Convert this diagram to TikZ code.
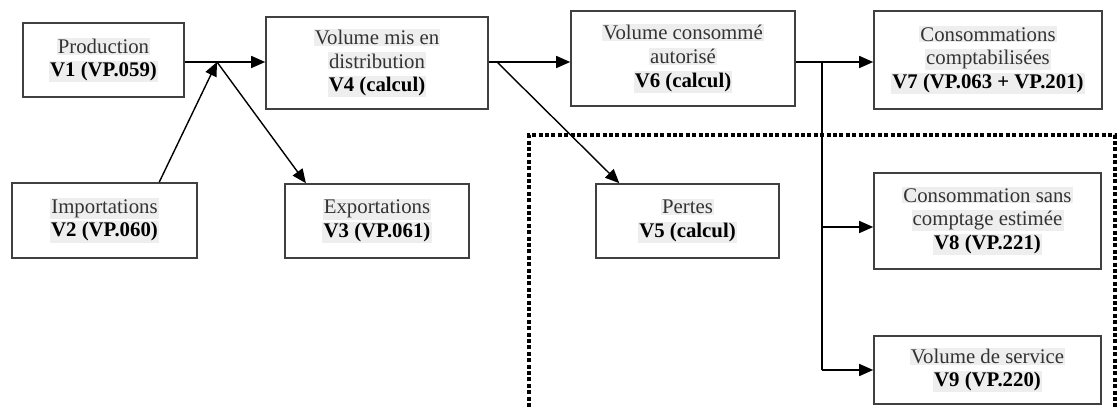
\documentclass[tikz,border=0pt]{standalone}
\usepackage{fontspec}
\setmainfont{Liberation Serif}
\usetikzlibrary{arrows.meta,calc}
\definecolor{hlgrey}{HTML}{EEEEEE}
\definecolor{txtgrey}{HTML}{333333}
\newcommand{\hl}[1]{{\setlength{\fboxsep}{0.6pt}\colorbox{hlgrey}{#1}}}
\newcommand{\hlb}[1]{\hl{\textbf{\color{black}#1}}}

\begin{document}
\begin{tikzpicture}[
	x=0.5pt, y=-0.5pt,
	boite/.style={rectangle, draw=black!75, line width=0.8pt, inner sep=0pt, align=center,
		text=txtgrey, font=\fontsize{10.4}{11.8}\selectfont},
	fleche/.style={-{Triangle[length=7pt,width=6pt]}, line width=0.7pt},
	trait/.style={line width=0.7pt},
	pointille/.style={line width=2pt, dash pattern=on 2pt off 1.2pt},
	]
	\useasboundingbox (0,0) rectangle (1119,407);
	\node [boite, minimum width=80.5pt, minimum height=37pt] (prod) at (103.5,60) {\hl{Production}\\ \hlb{V1 (VP.059)}};
	\node [boite, minimum width=92.5pt, minimum height=37.5pt] (imp) at (104.5,220.5) {\hl{Importations}\\ \hlb{V2 (VP.060)}};
	\node [boite, minimum width=111pt, minimum height=46pt] (vmd) at (377,63) {\hl{Volume mis en}\\ \hl{distribution}\\ \hlb{V4 (calcul)}};
	\node [boite, minimum width=92pt, minimum height=37pt] (exp) at (377,221) {\hl{Exportations}\\ \hlb{V3 (VP.061)}};
	\node [boite, minimum width=112pt, minimum height=47.5pt] (vca) at (683,58.5) {\hl{Volume consommé}\\ \hl{autorisé}\\ \hlb{V6 (calcul)}};
	\node [boite, minimum width=91.5pt, minimum height=37pt] (pertes) at (687.5,221) {\hl{Pertes}\\ \hlb{V5 (calcul)}};
	\node [boite, minimum width=114pt, minimum height=49pt] (cc) at (988,60) {\hl{Consommations}\\ \hl{comptabilisées}\\ \hlb{V7 (VP.063 + VP.201)}};
	\node [boite, minimum width=113.5pt, minimum height=48pt] (csc) at (987.5,221) {\hl{Consommation sans}\\ \hl{comptage estimée}\\ \hlb{V8 (VP.221)}};
	\node [boite, minimum width=113.5pt, minimum height=34pt] (vs) at (987.5,370) {\hl{Volume de service}\\ \hlb{V9 (VP.220)}};

	\coordinate (j1) at (217,62);
	\coordinate (j2) at (497,62);
	\coordinate (j3) at (822,62);

	\draw [trait] (prod.east |- j1) -- (j1);
	\draw [fleche] (imp.35) -- (j1);
	\draw [fleche] (j1) -- (vmd.west |- j1);
	\draw [fleche] (j1) -- (exp.152);
	\draw [fleche] (vmd.east |- j2) -- (vca.west |- j2);
	\draw [fleche] (j2) -- (pertes.151);
	\draw [fleche] (vca.east |- j3) -- (cc.west |- j3);
	\draw [trait] (j3) -- (j3 |- vs.west);
	\draw [fleche] (j3 |- vs.west) -- (vs.west);
	\draw [fleche] ($(j3 |- csc.west)+(0,6)$) -- ($(csc.west)+(0,6)$);

	\draw [pointille] (529,407) -- (529,135) -- (1115,135) -- (1115,407);
\end{tikzpicture}
\end{document}
